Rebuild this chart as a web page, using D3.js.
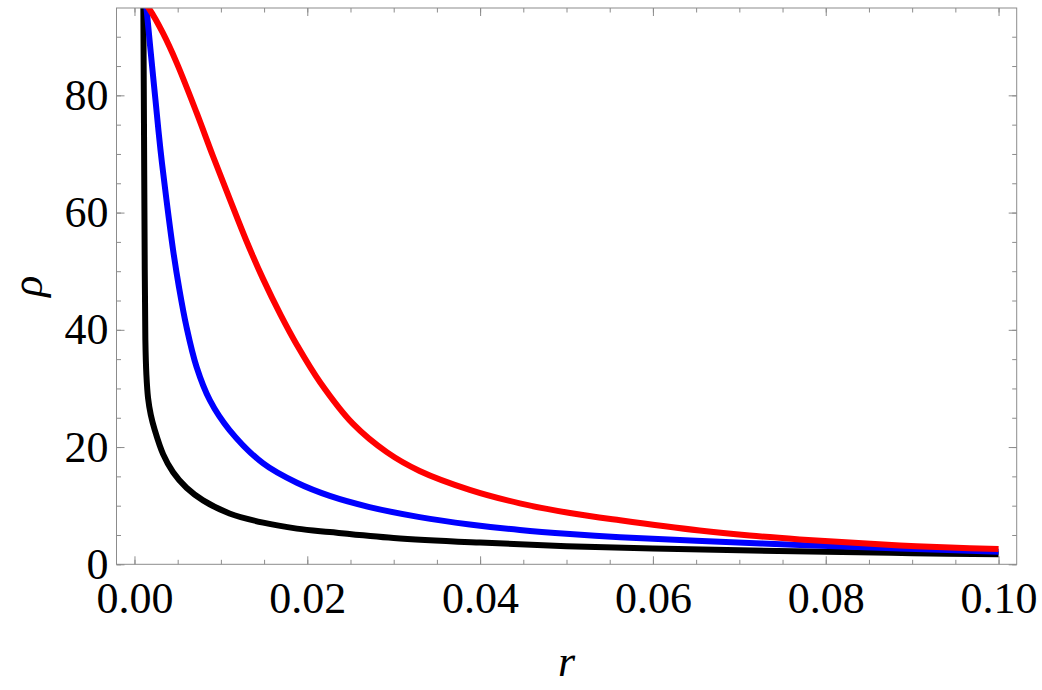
<!DOCTYPE html>
<html>
<head>
<meta charset="utf-8">
<script src="https://cdn.jsdelivr.net/npm/d3@7"></script>
<style>
  html, body { margin: 0; padding: 0; background: #fff; }
  svg { display: block; }
  .tick text { font-family: "Liberation Serif", "Times New Roman", serif; font-size: 44px; fill: #000; }
  .axis-label { font-family: "Liberation Serif", "Times New Roman", serif; font-size: 44px; font-style: italic; }
</style>
</head>
<body>
<svg id="chart" width="1042" height="690"></svg>
<script>
// values (r, rho)
const blackR   = [0.00101, 0.00110, 0.00119, 0.00126, 0.00138, 0.00157, 0.00189, 0.00235, 0.00331, 0.00447, 0.00602, 0.00794, 0.0110, 0.0149, 0.0188, 0.0226, 0.030, 0.040, 0.050, 0.060, 0.070, 0.080, 0.090, 0.100];
const blackRho = [99.7, 75.0, 50.2, 38.3, 32.3, 28.4, 25.5, 22.9, 18.8, 15.7, 13.05, 10.9, 8.67, 7.1, 6.09, 5.5, 4.5, 3.7, 3.1, 2.7, 2.38, 2.12, 1.9, 1.7];

const blueR   = [0.00125, 0.00185, 0.00243, 0.00301, 0.0037, 0.00447, 0.00516, 0.00602, 0.00718, 0.00872, 0.0110, 0.0149, 0.0188, 0.0226, 0.0272, 0.033, 0.0388, 0.0446, 0.0504, 0.0562, 0.065, 0.077, 0.0886, 0.100];
const blueRho = [97.1, 87.8, 79.2, 70.7, 62.2, 53.6, 47.2, 40.5, 33.7, 28.0, 22.9, 17.2, 13.9, 11.66, 9.76, 8.05, 6.8, 5.85, 5.15, 4.6, 4.0, 3.3, 2.7, 2.15];

const redR   = [0.00044, 0.00177, 0.0033, 0.0049, 0.0072, 0.0091, 0.01103, 0.01296, 0.01488, 0.0169, 0.0188, 0.0215, 0.0253, 0.0292, 0.033, 0.0388, 0.0446, 0.0504, 0.0562, 0.0654, 0.0712, 0.077, 0.0828, 0.0886, 0.0944, 0.1];
const redRho = [97.1, 94.6, 90.6, 85.5, 77.0, 69.56, 62.29, 55.15, 48.69, 42.59, 37.42, 31.02, 23.94, 19.13, 15.92, 12.7, 10.4, 8.75, 7.5, 5.75, 4.9, 4.25, 3.7, 3.22, 2.87, 2.6];

const xMajor = [0, 0.02, 0.04, 0.06, 0.08, 0.1];
const xMinor = d3.range(0, 0.1001, 0.005);
const yMajor = [0, 20, 40, 60, 80];
const yMinor = d3.range(0, 95, 5);

const series = [
    { r: blackR, rho: blackRho, color: '#000000' },
    { r: blueR, rho: blueRho, color: '#0000ff' },
    { r: redR, rho: redRho, color: '#ff0000' }
];

const svg = d3.select('#chart');
const plotLeft = 116.5, plotRight = 1016.7, plotTop = 8, plotBottom = 564.3;

const x = d3.scaleLinear().domain([-0.00208, 0.1021]).range([plotLeft, plotRight]);
const y = d3.scaleLinear().domain([0, 94.9]).range([plotBottom, plotTop]);

const frameColor = '#8c8c8c';

// clip for curves
svg.append('defs').append('clipPath').attr('id', 'plot-clip')
    .append('rect')
    .attr('x', plotLeft).attr('y', plotTop)
    .attr('width', plotRight - plotLeft).attr('height', plotBottom - plotTop);

// ticks on all four sides, pointing inward
function styleAxis(g) {
    g.select('.domain').remove();
    g.selectAll('.tick line').attr('stroke', frameColor).attr('stroke-width', 1);
}

svg.append('g').attr('transform', `translate(0,${plotBottom})`)
    .call(d3.axisBottom(x).tickValues(xMinor).tickSize(-4.5).tickFormat(''))
    .call(styleAxis);
svg.append('g').attr('transform', `translate(0,${plotBottom})`)
    .call(d3.axisBottom(x).tickValues(xMajor).tickSize(-8).tickPadding(17)
        .tickFormat(d3.format('.2f')))
    .call(styleAxis);
svg.append('g').attr('transform', `translate(0,${plotTop})`)
    .call(d3.axisTop(x).tickValues(xMinor).tickSize(-4.5).tickFormat(''))
    .call(styleAxis);
svg.append('g').attr('transform', `translate(0,${plotTop})`)
    .call(d3.axisTop(x).tickValues(xMajor).tickSize(-8).tickFormat(''))
    .call(styleAxis);

svg.append('g').attr('transform', `translate(${plotLeft},0)`)
    .call(d3.axisLeft(y).tickValues(yMinor).tickSize(-4.5).tickFormat(''))
    .call(styleAxis);
svg.append('g').attr('transform', `translate(${plotLeft},0)`)
    .call(d3.axisLeft(y).tickValues(yMajor).tickSize(-8).tickPadding(8).tickFormat(d3.format('d')))
    .call(styleAxis);
svg.append('g').attr('transform', `translate(${plotRight},0)`)
    .call(d3.axisRight(y).tickValues(yMinor).tickSize(-4.5).tickFormat(''))
    .call(styleAxis);
svg.append('g').attr('transform', `translate(${plotRight},0)`)
    .call(d3.axisRight(y).tickValues(yMajor).tickSize(-8).tickFormat(''))
    .call(styleAxis);

svg.selectAll('.tick text').attr('fill', '#000');

// curves
const line = d3.line()
    .x(d => x(d[0]))
    .y(d => y(d[1]))
    .curve(d3.curveCatmullRom.alpha(0.5));

const plot = svg.append('g').attr('clip-path', 'url(#plot-clip)');
series.forEach(s => {
    plot.append('path')
        .datum(d3.zip(s.r, s.rho))
        .attr('fill', 'none')
        .attr('stroke', s.color)
        .attr('stroke-width', 6)
        .attr('stroke-linejoin', 'round')
        .attr('d', line);
});

// frame
svg.append('rect')
    .attr('x', plotLeft).attr('y', plotTop)
    .attr('width', plotRight - plotLeft).attr('height', plotBottom - plotTop)
    .attr('fill', 'none')
    .attr('stroke', frameColor)
    .attr('stroke-width', 1);

// axis labels
svg.append('text')
    .attr('class', 'axis-label')
    .attr('x', (plotLeft + plotRight) / 2)
    .attr('y', 676)
    .attr('text-anchor', 'middle')
    .text('r');

svg.append('text')
    .attr('class', 'axis-label')
    .attr('transform', `translate(42,${(plotTop + plotBottom) / 2}) rotate(-90)`)
    .attr('text-anchor', 'middle')
    .text('ρ');
</script>
</body>
</html>
